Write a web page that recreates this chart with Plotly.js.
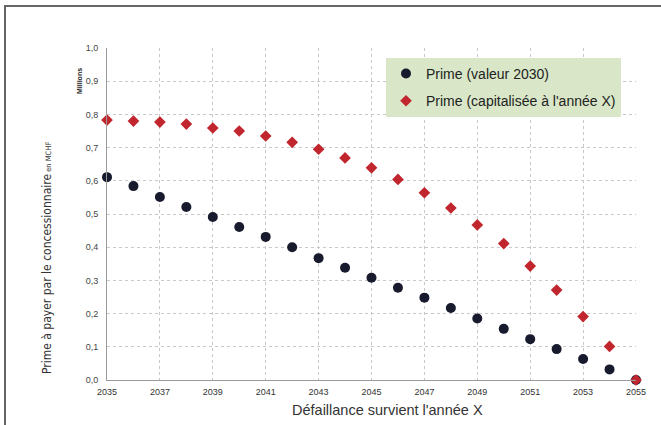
<!DOCTYPE html>
<html>
<head>
<meta charset="utf-8">
<script src="https://cdn.plot.ly/plotly-3.0.1.min.js"></script>
<style>
  html, body { margin: 0; padding: 0; background: #fff; }
  #frame { position: absolute; left: 4px; top: 5px; width: 660px; height: 425px; border-left: 2px solid #666; border-top: 2px solid #666; }
  #chart { position: absolute; left: 0; top: 0; width: 661px; height: 425px; }
</style>
</head>
<body>
<div id="frame"></div>
<div id="chart"></div>
<script>
const years = [2035, 2036, 2037, 2038, 2039, 2040, 2041, 2042, 2043, 2044, 2045,
               2046, 2047, 2048, 2049, 2050, 2051, 2052, 2053, 2054, 2055];
const primeValeur2030 = [0.611, 0.584, 0.551, 0.521, 0.491, 0.461, 0.431, 0.400, 0.367, 0.338, 0.308,
                         0.278, 0.248, 0.217, 0.185, 0.154, 0.123, 0.093, 0.063, 0.032, 0.0];
const primeCapitalisee = [0.783, 0.780, 0.777, 0.771, 0.759, 0.750, 0.735, 0.716, 0.695, 0.669, 0.639,
                          0.604, 0.564, 0.518, 0.467, 0.411, 0.343, 0.271, 0.191, 0.101, 0.0];
const seriesNames = ["Prime (valeur 2030)", "Prime (capitalisée à l'année X)"];
const xTickVals = [2035, 2037, 2039, 2041, 2043, 2045, 2047, 2049, 2051, 2053, 2055];
const yTickVals = [0, 0.1, 0.2, 0.3, 0.4, 0.5, 0.6, 0.7, 0.8, 0.9, 1.0];

const font = "Liberation Sans, Arial, sans-serif";
const narrow = "Liberation Sans Narrow, DejaVu Sans Condensed, Liberation Sans, sans-serif";

const traces = [
  {
    x: years, y: primeValeur2030, name: seriesNames[0], type: "scatter", mode: "markers",
    marker: { symbol: "circle", size: 10, color: "#181a2e" },
    cliponaxis: false, legendgroup: "a"
  },
  {
    x: years, y: primeCapitalisee, name: seriesNames[1], type: "scatter", mode: "markers",
    marker: { symbol: "diamond", size: 9, color: "#c1262e" },
    cliponaxis: false, legendgroup: "b"
  }
];

const layout = {
  width: 661, height: 425,
  margin: { l: 107, r: 25, t: 48, b: 45 },
  paper_bgcolor: "rgba(0,0,0,0)",
  plot_bgcolor: "#fff",
  separators: ", ",
  font: { family: font, color: "#333" },
  showlegend: true,
  legend: {
    x: (386 - 107) / 529, y: 0.97, xanchor: "left", yanchor: "top",
    bgcolor: "#d9e7c8", borderwidth: 0,
    font: { family: font, size: 14, color: "#222" },
    traceorder: "grouped", tracegroupgap: 6, itemwidth: 30
  },
  xaxis: {
    range: [2035, 2055], tickvals: xTickVals, ticktext: xTickVals.map(String),
    showgrid: true, gridcolor: "#c8c8c8", griddash: "dot", gridwidth: 1,
    showline: true, linecolor: "#9a9a9a", linewidth: 1, zeroline: false,
    ticks: "", tickfont: { family: font, size: 9, color: "#333" }, ticklabelstandoff: 3
  },
  yaxis: {
    range: [0, 1.0], tickvals: yTickVals, tickformat: ".1f",
    showgrid: true, gridcolor: "#c8c8c8", griddash: "dot", gridwidth: 1,
    showline: true, linecolor: "#9a9a9a", linewidth: 1, zeroline: false,
    ticks: "", tickfont: { family: font, size: 9, color: "#444" }, ticklabelstandoff: 6
  },
  annotations: [
    {
      xref: "paper", yref: "paper", x: (47 - 107) / 529, y: (380 - 258) / 332,
      xanchor: "center", yanchor: "middle", textangle: -90, showarrow: false,
      text: "Prime à payer par le concessionnaire<span style='font-size:7.5px'> en MCHF</span>",
      font: { family: narrow, size: 12, color: "#333" }
    },
    {
      xref: "paper", yref: "paper", x: (79 - 107) / 529, y: (380 - 81) / 332,
      xanchor: "center", yanchor: "middle", textangle: -90, showarrow: false,
      text: "<b>Millions</b>", font: { family: font, size: 7, color: "#222" }
    },
    {
      xref: "paper", yref: "paper", x: (387 - 107) / 529, y: (380 - 410) / 332,
      xanchor: "center", yanchor: "middle", showarrow: false,
      text: "Défaillance survient l'année X", font: { family: font, size: 14.5, color: "#333" }
    }
  ]
};

Plotly.newPlot("chart", traces, layout, { displayModeBar: false, staticPlot: true });
</script>
</body>
</html>
